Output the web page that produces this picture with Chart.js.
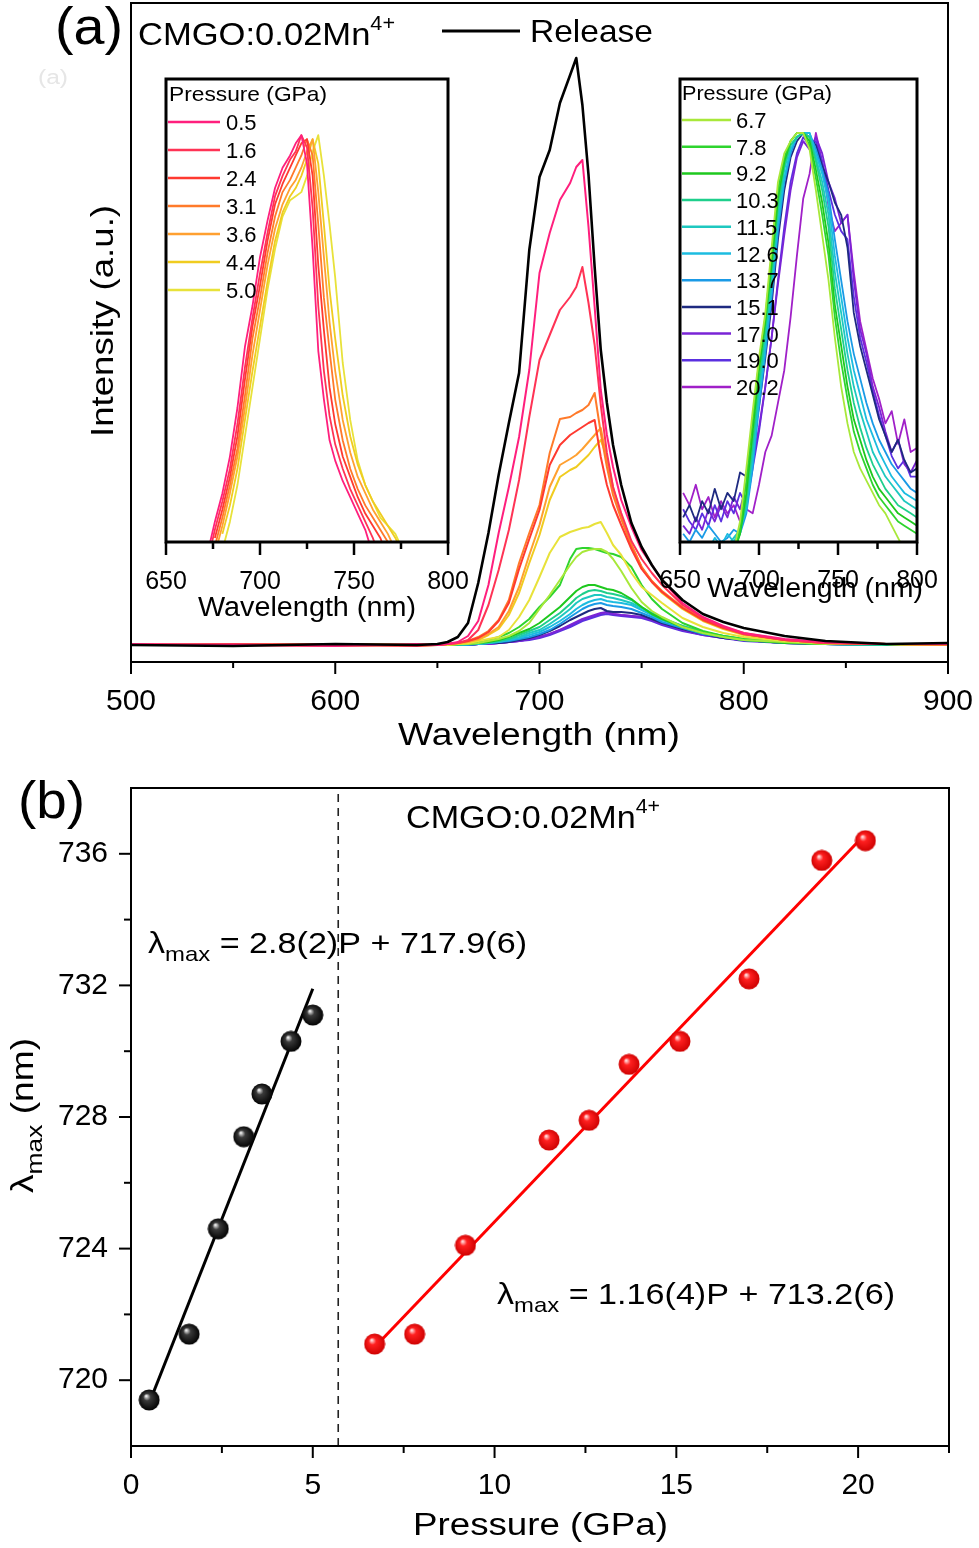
<!DOCTYPE html>
<html>
<head>
<meta charset="utf-8">
<script src="https://cdn.jsdelivr.net/npm/chart.js@4.4.0/dist/chart.umd.min.js"></script>
<style>
html, body { margin: 0; padding: 0; background: #fff; overflow: hidden; }
#wrap { position: relative; width: 979px; height: 1548px; overflow: hidden; }
canvas { position: absolute; }
</style>
</head>
<body>
<div id="wrap">
  <canvas id="panelA" width="1000" height="770" style="left:0px;top:0px"></canvas>
  <canvas id="insetL" width="400" height="580" style="left:100px;top:60px"></canvas>
  <canvas id="insetR" width="359" height="580" style="left:620px;top:60px"></canvas>
  <canvas id="panelB" width="1000" height="808" style="left:0px;top:740px"></canvas>
</div>
<script>
const FONT = "'Liberation Sans', Arial, Helvetica, sans-serif";
Chart.defaults.font.family = FONT;
Chart.defaults.color = '#000';

// ---- panel (a): emission spectra, intensity ----
const wlMain = [500, 550, 600, 640, 650, 655, 660, 665, 670, 675, 680, 685, 690, 695,
  700, 705, 710, 715, 718, 721, 724, 727, 730, 733, 736, 740, 745, 750, 755, 760,
  770, 780, 790, 800, 820, 840, 870, 900];
const releaseMain = [0, -1, 1, 0, 1, 3, 8, 22, 62, 112, 170, 222, 272, 395,
  468, 495, 542, 570, 587, 540, 470, 378, 295, 242, 200, 160, 122, 98, 80, 65,
  45, 31, 23, 17, 9, 4, 1, 2];

const lowPressures = ['0.5', '1.6', '2.4', '3.1', '3.6', '4.4', '5.0'];
const lowColors = ['#ff1f7d', '#ff3355', '#ff3a30', '#ff7a2a', '#ffa030', '#f0cc20', '#e8e23a'];
const lowMain = [
  [1, 0, -1, 1, 0, 1, 3, 9, 24, 60, 112, 158, 208, 275, 372, 412, 445, 462, 478, 485, 418, 338, 255, 210, 178, 145, 118, 95, 80, 65, 42, 28, 19, 12, 6, 3, 1, 1],
  [0, 1, 0, -1, 0, 1, 2, 5, 15, 40, 75, 115, 165, 228, 285, 310, 335, 348, 358, 378, 342, 300, 240, 192, 158, 132, 104, 86, 72, 60, 40, 27, 18, 11, 5, 2, 1, 1],
  [0, 0, 1, 0, 0, 1, 2, 4, 7, 13, 24, 42, 76, 106, 135, 180, 200, 210, 214, 218, 222, 225, 188, 160, 140, 120, 96, 76, 63, 53, 37, 25, 17, 11, 5, 2, 1, 1],
  [1, 0, -1, 0, 1, 1, 2, 4, 8, 14, 25, 45, 82, 112, 140, 192, 226, 228, 232, 235, 240, 252, 212, 178, 150, 126, 100, 78, 64, 54, 38, 26, 18, 12, 5, 2, 1, 0],
  [0, 1, 0, 0, 0, 1, 2, 3, 6, 11, 18, 34, 58, 90, 120, 158, 180, 186, 190, 196, 203, 210, 217, 185, 156, 128, 100, 78, 64, 53, 37, 25, 17, 11, 5, 2, 1, 0],
  [0, 0, 1, -1, 0, 1, 1, 3, 5, 10, 16, 30, 52, 82, 110, 145, 168, 175, 178, 184, 190, 198, 205, 188, 158, 128, 99, 77, 63, 52, 36, 24, 16, 10, 5, 2, 1, 0],
  [0, 0, 0, 1, 0, 0, 1, 2, 4, 6, 8, 15, 28, 45, 68, 92, 108, 113, 115, 117, 118, 121, 123, 112, 100, 90, 72, 58, 50, 42, 27, 18, 12, 8, 4, 2, 1, 0]
];

const highPressures = ['6.7', '7.8', '9.2', '10.3', '11.5', '12.6', '13.7', '15.1', '17.0', '19.0', '20.2'];
const highColors = ['#a8e83a', '#2ed42e', '#1ec81e', '#1ecf8c', '#1ec8c0', '#1cbce0', '#1a9ae6', '#1e2a80', '#7a24d6', '#5a30e0', '#a020c8'];
const highMain = [
  [0, 1, 0, 0, 0, 0, 1, 1, 2, 4, 6, 9, 14, 22, 36, 50, 65, 80, 88, 93, 95, 96, 96, 93, 86, 74, 57, 43, 34, 28, 18, 12, 8, 5, 3, 1, 1, 0],
  [0, 0, 1, 0, 0, 0, 1, 1, 3, 5, 8, 12, 18, 26, 38, 48, 60, 86, 96, 97, 97, 96, 94, 92, 91, 88, 78, 60, 46, 36, 22, 14, 9, 6, 3, 1, 1, 0],
  [0, 0, 0, 1, 0, 0, 1, 1, 2, 3, 5, 8, 12, 16, 22, 30, 38, 48, 54, 58, 60, 60, 58, 56, 55, 52, 46, 38, 31, 26, 18, 12, 8, 5, 2, 1, 1, 0],
  [0, 0, 0, 0, 0, 0, 0, 1, 2, 3, 4, 6, 10, 14, 18, 25, 32, 41, 47, 51, 54, 55, 54, 52, 51, 49, 45, 38, 32, 27, 19, 13, 9, 6, 3, 1, 0, 0],
  [0, 0, 0, 0, 0, 0, 0, 1, 1, 2, 4, 6, 8, 12, 15, 21, 28, 36, 42, 46, 48, 50, 50, 48, 47, 45, 42, 37, 31, 26, 19, 13, 9, 6, 3, 1, 0, 0],
  [0, 0, 0, 0, 0, 0, 0, 1, 1, 2, 3, 5, 7, 10, 13, 18, 24, 31, 36, 40, 43, 45, 46, 44, 43, 42, 40, 35, 30, 25, 18, 12, 8, 5, 3, 1, 0, 0],
  [0, 0, 0, 0, 0, 0, 0, 0, 1, 2, 3, 4, 6, 8, 11, 15, 21, 28, 32, 36, 39, 41, 42, 40, 39, 38, 36, 32, 28, 23, 17, 11, 8, 5, 2, 1, 0, 0],
  [0, 0, 0, 0, 0, 0, 0, 0, 1, 2, 2, 3, 5, 7, 10, 14, 19, 25, 28, 31, 34, 36, 37, 34, 33, 33, 32, 30, 26, 22, 16, 11, 7, 5, 2, 1, 0, 0],
  [0, 0, 0, 0, 0, 0, 0, 0, 1, 1, 2, 3, 4, 6, 8, 11, 15, 20, 23, 26, 28, 30, 32, 33, 31, 30, 29, 28, 25, 21, 15, 10, 7, 5, 2, 1, 0, 0],
  [0, 0, 0, 0, 0, 0, 0, 0, 1, 1, 2, 3, 4, 5, 7, 10, 14, 18, 21, 24, 26, 28, 30, 31, 30, 29, 28, 27, 24, 20, 14, 10, 7, 4, 2, 1, 0, 0],
  [0, 0, 0, 0, 0, 0, 0, 0, 1, 1, 2, 3, 4, 6, 8, 11, 15, 19, 22, 25, 27, 29, 31, 33, 31, 30, 29, 28, 26, 22, 16, 11, 7, 5, 2, 1, 0, 0]
];

// ---- insets: normalised spectra ----
const wlInsetLow = [672, 676, 680, 684, 688, 692, 696, 700, 704, 708, 712, 716,
  719, 722, 725, 728, 731, 734, 737, 740, 744, 748, 752, 756, 760, 764, 768, 772, 776];
const lowInset = [
  [-0.03, 0.05, 0.12, 0.21, 0.33, 0.48, 0.58, 0.70, 0.79, 0.87, 0.92, 0.95, 0.98, 1.00, 0.93, 0.72, 0.47, 0.35, 0.25, 0.20, 0.15, 0.11, 0.07, 0.03, -0.03, null, null, null, null],
  [-0.05, 0.03, 0.10, 0.18, 0.29, 0.43, 0.55, 0.66, 0.76, 0.85, 0.90, 0.94, 0.96, 1.00, 0.97, 0.82, 0.58, 0.42, 0.31, 0.24, 0.18, 0.13, 0.09, 0.05, 0.01, -0.04, null, null, null],
  [null, 0.01, 0.08, 0.16, 0.26, 0.40, 0.53, 0.63, 0.74, 0.83, 0.88, 0.92, 0.95, 0.98, 0.99, 0.90, 0.68, 0.52, 0.38, 0.29, 0.21, 0.16, 0.11, 0.07, 0.04, 0.01, -0.04, null, null],
  [null, -0.01, 0.06, 0.14, 0.23, 0.36, 0.50, 0.60, 0.71, 0.80, 0.86, 0.89, 0.92, 0.95, 0.99, 0.95, 0.78, 0.60, 0.47, 0.35, 0.25, 0.18, 0.13, 0.09, 0.06, 0.03, 0.00, -0.04, null],
  [null, -0.03, 0.04, 0.12, 0.21, 0.33, 0.46, 0.57, 0.68, 0.77, 0.83, 0.87, 0.89, 0.92, 0.96, 0.99, 0.86, 0.70, 0.54, 0.42, 0.30, 0.22, 0.16, 0.12, 0.08, 0.05, 0.02, -0.02, null],
  [null, null, 0.02, 0.09, 0.18, 0.30, 0.42, 0.53, 0.64, 0.74, 0.81, 0.85, 0.87, 0.90, 0.94, 0.99, 0.93, 0.78, 0.62, 0.50, 0.36, 0.26, 0.19, 0.14, 0.10, 0.07, 0.04, 0.01, -0.03],
  [null, null, -0.02, 0.05, 0.14, 0.26, 0.38, 0.50, 0.62, 0.72, 0.80, 0.84, 0.85, 0.86, 0.90, 0.96, 1.00, 0.90, 0.78, 0.65, 0.44, 0.30, 0.20, 0.14, 0.10, 0.06, 0.04, 0.02, -0.02]
];

const wlInsetHigh = [652, 656, 660, 664, 668, 672, 676, 680, 684, 688, 692, 696,
  700, 704, 708, 712, 716, 720, 724, 728, 732, 736, 740, 744,
  748, 752, 756, 760, 764, 768, 772, 776, 780, 784, 788, 792, 796, 800];
const highInset = [
  [null, null, null, null, null, null, null, -0.05, -0.02, 0.05, 0.18, 0.32, 0.45, 0.56, 0.72, 0.88, 0.95, 0.98, 1.00, 1.00, 0.96, 0.86, 0.75, 0.64, 0.50, 0.38, 0.29, 0.22, 0.18, 0.15, 0.12, 0.09, 0.07, 0.04, 0.01, -0.02, null, null],
  [null, null, null, null, null, null, null, -0.05, -0.03, 0.03, 0.15, 0.30, 0.44, 0.55, 0.70, 0.86, 0.94, 0.98, 1.00, 1.00, 0.97, 0.89, 0.80, 0.70, 0.55, 0.44, 0.35, 0.27, 0.22, 0.18, 0.14, 0.11, 0.09, 0.07, 0.05, 0.04, 0.03, 0.02],
  [null, null, null, null, null, null, null, -0.04, -0.03, 0.02, 0.12, 0.27, 0.42, 0.54, 0.68, 0.84, 0.93, 0.98, 1.00, 1.00, 0.98, 0.91, 0.83, 0.73, 0.58, 0.48, 0.38, 0.30, 0.25, 0.20, 0.16, 0.13, 0.11, 0.09, 0.07, 0.06, 0.05, 0.04],
  [null, null, null, null, null, null, -0.04, -0.02, -0.02, 0.02, 0.10, 0.24, 0.39, 0.52, 0.66, 0.82, 0.92, 0.97, 0.99, 1.00, 0.99, 0.93, 0.86, 0.77, 0.62, 0.52, 0.42, 0.34, 0.28, 0.23, 0.19, 0.16, 0.13, 0.11, 0.09, 0.08, 0.07, 0.06],
  [null, null, null, null, null, -0.03, 0.00, -0.01, 0.01, 0.03, 0.09, 0.22, 0.37, 0.50, 0.64, 0.80, 0.91, 0.97, 0.99, 1.00, 0.99, 0.94, 0.88, 0.80, 0.66, 0.56, 0.46, 0.38, 0.32, 0.27, 0.22, 0.19, 0.16, 0.14, 0.12, 0.10, 0.09, 0.08],
  [null, null, null, null, -0.02, 0.01, -0.01, 0.02, 0.00, 0.03, 0.08, 0.20, 0.35, 0.48, 0.62, 0.78, 0.89, 0.96, 0.99, 1.00, 1.00, 0.95, 0.90, 0.83, 0.70, 0.60, 0.50, 0.42, 0.36, 0.30, 0.26, 0.22, 0.19, 0.16, 0.14, 0.12, 0.11, 0.10],
  [0.02, 0.00, 0.03, 0.01, 0.04, 0.02, 0.00, 0.01, 0.03, 0.02, 0.07, 0.18, 0.33, 0.46, 0.60, 0.76, 0.88, 0.95, 0.99, 1.00, 1.00, 0.96, 0.91, 0.85, 0.74, 0.64, 0.54, 0.46, 0.40, 0.34, 0.29, 0.25, 0.22, 0.19, 0.17, 0.15, 0.13, 0.12],
  [0.06, 0.09, 0.05, 0.10, 0.07, 0.13, 0.08, 0.12, 0.10, 0.17, 0.16, 0.24, 0.33, 0.45, 0.58, 0.74, 0.86, 0.94, 0.98, 1.00, 0.99, 0.97, 0.92, 0.88, 0.83, 0.80, 0.72, 0.56, 0.48, 0.42, 0.36, 0.30, 0.26, 0.22, 0.25, 0.20, 0.17, 0.18],
  [0.04, 0.02, 0.06, 0.03, 0.08, 0.05, 0.09, 0.06, 0.11, 0.08, 0.14, 0.20, 0.28, 0.38, 0.50, 0.63, 0.75, 0.86, 0.94, 0.98, 0.96, 0.99, 0.95, 0.88, 0.84, 0.78, 0.80, 0.64, 0.52, 0.46, 0.38, 0.33, 0.27, 0.22, 0.25, 0.19, 0.17, 0.20],
  [0.08, 0.05, 0.03, 0.07, 0.04, 0.09, 0.05, 0.10, 0.07, 0.12, 0.09, 0.18, 0.27, 0.38, 0.50, 0.64, 0.77, 0.88, 0.95, 0.99, 0.97, 0.98, 0.93, 0.86, 0.80, 0.76, 0.74, 0.60, 0.50, 0.44, 0.37, 0.31, 0.26, 0.21, 0.18, 0.20, 0.16, 0.16],
  [0.12, 0.09, 0.14, 0.08, 0.11, 0.06, 0.10, 0.07, 0.09, 0.05, 0.08, 0.07, 0.14, 0.22, 0.26, 0.34, 0.42, 0.55, 0.70, 0.84, 0.90, 1.00, 0.93, 0.82, 0.76, 0.78, 0.80, 0.66, 0.54, 0.47, 0.40, 0.35, 0.29, 0.32, 0.24, 0.30, 0.22, 0.23]
];

// ---- panel (b): peak position vs pressure ----
const pressLow = [0.5, 1.6, 2.4, 3.1, 3.6, 4.4, 5.0];
const lamLow = [719.4, 721.4, 724.6, 727.4, 728.7, 730.3, 731.1];
const pressHigh = [6.7, 7.8, 9.2, 11.5, 12.6, 13.7, 15.1, 17.0, 19.0, 20.2];
const lamHigh = [721.1, 721.4, 724.1, 727.3, 727.9, 729.6, 730.3, 732.2, 735.8, 736.4];
const fitLowP = [0.5, 5.0];
const fitLowLam = [719.3, 731.9];
const fitHighP = [6.7, 20.2];
const fitHighLam = [721.0, 736.6];
const dividerP = 5.7;

// ---- ticks ----
const ticksMainX = [500, 600, 700, 800, 900];
const minorMainX = [550, 650, 750, 850];
const ticksInsetX = [650, 700, 750, 800];
const minorInsetX = [675, 725, 775];
const ticksPressX = [0, 5, 10, 15, 20];
const minorPressX = [2.5, 7.5, 12.5, 17.5, 22.5];
const ticksLamY = [720, 724, 728, 732, 736];
const minorLamY = [722, 726, 730, 734];

const pts = (xs, ys) => xs.map((x, i) => ({ x: x, y: ys[i] }));

// text with optional sub/superscript parts, stretched to a target width
function rich(ctx, parts, x, y, width, rotate) {
  ctx.save();
  let total = 0;
  parts.forEach(p => { ctx.font = p[1] + 'px ' + FONT; total += ctx.measureText(p[0]).width; });
  ctx.translate(x, y);
  if (rotate) ctx.rotate(-Math.PI / 2);
  if (width) ctx.scale(width / total, 1);
  let cx = 0;
  ctx.textBaseline = 'alphabetic';
  ctx.textAlign = 'left';
  parts.forEach(p => {
    ctx.font = p[1] + 'px ' + FONT;
    ctx.fillText(p[0], cx, p[2] || 0);
    cx += ctx.measureText(p[0]).width;
  });
  ctx.restore();
}

function hline(ctx, x1, x2, y, color, w) {
  ctx.save();
  ctx.strokeStyle = color; ctx.lineWidth = w;
  ctx.beginPath(); ctx.moveTo(x1, y); ctx.lineTo(x2, y); ctx.stroke();
  ctx.restore();
}

// frame, outward ticks and free text for one panel
function deco(cfg) {
  return {
    id: 'deco',
    afterDraw(chart) {
      const ctx = chart.ctx, a = chart.chartArea;
      const sx = chart.scales.x, sy = chart.scales.y;
      ctx.save();
      ctx.strokeStyle = '#000';
      ctx.lineWidth = cfg.frame;
      ctx.strokeRect(a.left, a.top, a.right - a.left, a.bottom - a.top);
      ctx.lineWidth = cfg.tickW;
      const mark = (vals, len, axis) => vals.forEach(v => {
        ctx.beginPath();
        if (axis === 'x') {
          const p = sx.getPixelForValue(v);
          ctx.moveTo(p, a.bottom); ctx.lineTo(p, a.bottom + len);
        } else {
          const p = sy.getPixelForValue(v);
          ctx.moveTo(a.left, p); ctx.lineTo(a.left - len, p);
        }
        ctx.stroke();
      });
      mark(cfg.xTicks, cfg.major, 'x');
      mark(cfg.xMinor, cfg.minor, 'x');
      if (cfg.yTicks) { mark(cfg.yTicks, cfg.major, 'y'); mark(cfg.yMinor, cfg.minor, 'y'); }
      ctx.translate(-cfg.ox, -cfg.oy);
      ctx.fillStyle = '#000';
      cfg.draw(ctx);
      ctx.restore();
    }
  };
}

function build(id, cfg) {
  return new Chart(document.getElementById(id), {
    type: 'line',
    data: { datasets: cfg.datasets },
    options: {
      responsive: false,
      animation: false,
      devicePixelRatio: 1,
      layout: { padding: cfg.pad },
      plugins: { legend: { display: false }, tooltip: { enabled: false } },
      elements: { point: { radius: 0 }, line: { tension: 0, borderJoinStyle: 'round' } },
      scales: {
        x: {
          type: 'linear', min: cfg.xMin, max: cfg.xMax,
          afterBuildTicks: s => { s.ticks = cfg.xTicks.map(v => ({ value: v })); },
          afterFit: s => { s.height = cfg.xH; },
          grid: { display: false }, border: { display: false },
          ticks: { font: { size: cfg.xFont }, color: '#000', padding: cfg.xPad, maxRotation: 0, autoSkip: false }
        },
        y: cfg.y
      }
    },
    plugins: [deco(cfg)]
  });
}

function sphere(light, base, dark) {
  const c = document.createElement('canvas');
  c.width = 22; c.height = 22;
  const g = c.getContext('2d');
  const grad = g.createRadialGradient(8, 7, 0.5, 11, 11, 11);
  grad.addColorStop(0, light);
  grad.addColorStop(0.3, base);
  grad.addColorStop(1, dark);
  g.fillStyle = grad;
  g.beginPath(); g.arc(11, 11, 10.5, 0, Math.PI * 2); g.fill();
  return c;
}

// ---------- panel (a) ----------
const mainSets = [{ data: pts(wlMain, releaseMain), borderColor: '#000', borderWidth: 2.6 }];
lowMain.forEach((v, i) => mainSets.push({ data: pts(wlMain, v), borderColor: lowColors[i], borderWidth: 2 }));
highMain.forEach((v, i) => mainSets.push({ data: pts(wlMain, v), borderColor: highColors[i], borderWidth: 2 }));

build('panelA', {
  datasets: mainSets,
  pad: { left: 131, top: 3, right: 52, bottom: 0 },
  xMin: 500, xMax: 900, xTicks: ticksMainX, xMinor: minorMainX, xH: 108, xFont: 30, xPad: 14,
  y: { display: false, min: -17, max: 642 },
  frame: 2, tickW: 2, major: 12, minor: 6, ox: 0, oy: 0,
  draw(ctx) {
    rich(ctx, [['(a)', 52]], 55, 44, 68);
    ctx.fillStyle = '#e6e6e6';
    rich(ctx, [['(a)', 20]], 38, 84, 30);
    ctx.fillStyle = '#000';
    rich(ctx, [['CMGO:0.02Mn', 32], ['4+', 20, -15]], 138, 45, 257);
    hline(ctx, 442, 520, 31, '#000', 3);
    rich(ctx, [['Release', 32]], 530, 42, 123);
    rich(ctx, [['Intensity (a.u.)', 31]], 113, 437, 232, true);
    rich(ctx, [['Wavelength (nm)', 31]], 398, 745, 282);
  }
});

// ---------- left inset ----------
build('insetL', {
  datasets: lowInset.map((v, i) => ({ data: pts(wlInsetLow, v), borderColor: lowColors[i], borderWidth: 1.8 })),
  pad: { left: 66, top: 19, right: 52, bottom: 0 },
  xMin: 650, xMax: 800, xTicks: ticksInsetX, xMinor: minorInsetX, xH: 98, xFont: 25, xPad: 17,
  y: { display: false, min: 0, max: 1.138 },
  frame: 3, tickW: 2.5, major: 13, minor: 7, ox: 100, oy: 60,
  draw(ctx) {
    rich(ctx, [['Pressure (GPa)', 21]], 169, 101, 158);
    lowPressures.forEach((p, i) => {
      const y = 122 + i * 28;
      hline(ctx, 168, 220, y, lowColors[i], 2.5);
      rich(ctx, [[p, 22]], 226, y + 8);
    });
    rich(ctx, [['Wavelength (nm)', 27]], 198, 616, 218);
  }
});

// ---------- right inset ----------
build('insetR', {
  datasets: highInset.map((v, i) => ({ data: pts(wlInsetHigh, v), borderColor: highColors[i], borderWidth: 1.8 })),
  pad: { left: 60, top: 19, right: 62, bottom: 0 },
  xMin: 650, xMax: 800, xTicks: ticksInsetX, xMinor: minorInsetX, xH: 98, xFont: 25, xPad: 16,
  y: { display: false, min: 0, max: 1.132 },
  frame: 3, tickW: 2.5, major: 13, minor: 7, ox: 620, oy: 60,
  draw(ctx) {
    rich(ctx, [['Pressure (GPa)', 21]], 682, 100, 150);
    highPressures.forEach((p, i) => {
      const y = 120 + i * 26.7;
      hline(ctx, 682, 731, y, highColors[i], 2.5);
      rich(ctx, [[p, 22]], 736, y + 8);
    });
    rich(ctx, [['Wavelength (nm)', 27]], 707, 597, 216);
  }
});

// ---------- panel (b) ----------
const blackBall = sphere('#f0f0f0', '#3a3a3a', '#000');
const redBall = sphere('#ffe0e0', '#ff2020', '#cc0000');

build('panelB', {
  datasets: [
    { data: pts(pressLow, lamLow), showLine: false, pointStyle: blackBall, pointRadius: 10 },
    { data: pts(pressHigh, lamHigh), showLine: false, pointStyle: redBall, pointRadius: 10 },
    { data: pts(fitLowP, fitLowLam), borderColor: '#000', borderWidth: 3 },
    { data: pts(fitHighP, fitHighLam), borderColor: '#ff0000', borderWidth: 3 },
    { data: pts([dividerP, dividerP], [718, 738]), borderColor: '#222', borderWidth: 1.6, borderDash: [8, 6] }
  ],
  pad: { left: 0, top: 48, right: 51, bottom: 0 },
  xMin: 0, xMax: 22.5, xTicks: ticksPressX, xMinor: minorPressX, xH: 102, xFont: 30, xPad: 14,
  y: {
    type: 'linear', min: 718, max: 738,
    afterBuildTicks: s => { s.ticks = ticksLamY.map(v => ({ value: v })); },
    afterFit: s => { s.width = 131; },
    grid: { display: false }, border: { display: false },
    ticks: { font: { size: 30 }, color: '#000', padding: 15 }
  },
  yTicks: ticksLamY, yMinor: minorLamY,
  frame: 2, tickW: 2, major: 12, minor: 7, ox: 0, oy: 740,
  draw(ctx) {
    rich(ctx, [['(b)', 52]], 18, 818, 67);
    rich(ctx, [['CMGO:0.02Mn', 32], ['4+', 20, -15]], 406, 828, 254);
    rich(ctx, [['\u03bb', 30], ['max', 21, 8], [' = 2.8(2)P + 717.9(6)', 30]], 148, 953, 379);
    rich(ctx, [['\u03bb', 30], ['max', 21, 8], [' = 1.16(4)P + 713.2(6)', 30]], 497, 1304, 398);
    rich(ctx, [['Pressure (GPa)', 31]], 413, 1535, 255);
    rich(ctx, [['\u03bb', 31], ['max', 22, 9], [' (nm)', 31]], 33, 1193, 155, true);
  }
});
</script>
</body>
</html>
